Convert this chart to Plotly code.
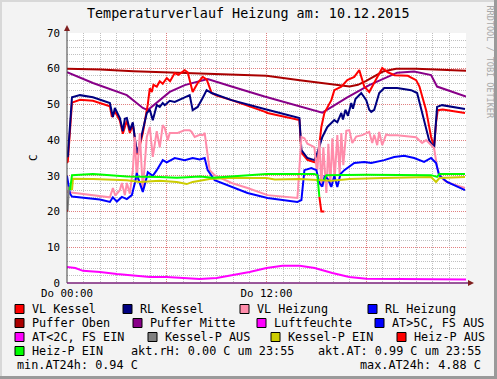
import plotly.graph_objects as go

# ---------------- data ----------------
title_text = "Temperaturverlauf Heizung am: 10.12.2015"
x_tick_vals = [0, 6, 12, 18, 24]
x_tick_text = ["Do 00:00", "", "Do 12:00", "", ""]
y_tick_vals = [0, 10, 20, 30, 40, 50, 60, 70]

vl_kessel_h = [0, 0.05, 0.3, 0.78, 1.56, 2.58, 2.7, 2.88, 3.18, 3.36, 3.6, 3.78, 3.96, 4.2, 4.38, 4.56, 4.86,
               4.98, 5.1, 5.2, 5.4, 5.58, 5.76, 6.0, 6.2, 6.48, 6.7, 7.08, 7.26, 7.56, 7.86, 8.16, 8.4, 8.7,
               9.0, 9.9, 11.88, 12.06, 13.98, 14.1, 14.46, 14.88, 15.06, 15.3, 15.48, 15.9, 16.08, 16.5,
               16.86, 17.28, 17.58, 17.88, 18.18, 18.48, 18.78, 18.96, 19.3, 19.7, 20.5, 21.0, 21.2, 21.6,
               21.9, 22.08, 22.2, 22.3, 22.6, 23.94]
vl_kessel_v = [33.6, 34, 50.5, 51.3, 51, 49.5, 46.5, 48, 45.5, 41.8, 45.5, 42, 44.5, 36, 38.5, 42, 50,
               54.5, 53.5, 55.5, 55, 56.5, 55.8, 57.4, 56.5, 58.8, 58.3, 59.6, 59, 53.5, 56, 57.7, 57, 53.2,
               52.5, 51.2, 48, 47.6, 45.6, 36.5, 34.5, 33.8, 34, 43.7, 47.6, 51.2, 54, 55,
               56.8, 57.7, 59.6, 55, 53.5, 56, 58.8, 60.2, 59, 58.2, 58, 56.8, 55, 48.4,
               40.9, 38, 45, 48.4, 48.6, 47.6]

rl_kessel_h = [0, 0.05, 0.3, 0.78, 1.56, 2.58, 2.76, 2.88, 3.18, 3.36, 3.48, 3.6, 3.78, 3.96, 4.2, 4.38, 4.56,
               4.8, 4.98, 5.16, 5.4, 5.58, 5.76, 5.88, 6.18, 6.48, 7.08, 7.38, 7.56, 7.86, 8.16, 8.4, 8.7,
               9.9, 11.88, 13.98, 14.1, 14.46, 14.88, 15.06, 15.36, 15.66, 16.08, 16.26, 16.5, 16.6, 16.75,
               16.9, 17.1, 17.2, 17.35, 17.46, 17.7, 18.0, 18.18, 18.3, 18.48, 18.78, 19.08, 19.86, 20.7,
               21.06, 21.48, 21.78, 22.08, 22.26, 22.56, 23.94]
rl_kessel_v = [35.3, 35.5, 52, 52.6, 52, 50.4, 46.5, 49, 46.2, 42.5, 46, 46.2, 42.8, 45, 36.4, 39.2, 42.8,
               47.6, 48.5, 45.6, 49.8, 49.3, 50.4, 49.8, 51, 50.7, 52, 52.6, 48.4, 49.3, 51.8, 54, 53.2,
               51.2, 48.7, 46.2, 37.2, 35, 34.4, 36.4, 40.9, 43.7, 45.6, 45, 47.6, 45.8, 48.5,
               46.8, 50.4, 48.8, 51.5, 52, 53.2, 51.2, 48.5, 47.9, 48.5, 53.2, 54.6, 54.6, 54,
               53.2, 45.6, 40, 37.8, 49.3, 49.8, 48.7]

vl_heiz_h = [0, 1.56, 2.58, 2.76, 2.9, 3.18, 3.3, 3.48, 3.6, 3.78, 3.96, 4.08, 4.2, 4.38, 4.5, 4.56, 4.8,
             4.98, 5.16, 5.4, 5.58, 5.76, 5.88, 6.06, 6.18, 6.66, 7.08, 7.38, 7.5, 7.68, 7.98, 8.16, 8.28,
             8.4, 8.58, 8.88, 9.9, 10.86, 12.06, 13.86, 14.1, 14.28, 14.46, 14.76, 14.88, 15.0, 15.06,
             15.18, 15.3, 15.42, 15.6, 15.72, 15.84, 15.96, 16.1, 16.26, 16.4, 16.5, 16.62, 16.8, 16.98,
             17.16, 17.4, 17.76, 18.18, 18.36, 18.48, 18.66, 18.78, 18.96, 19.2, 19.38, 19.86, 21.0,
             21.36, 21.6, 22.08, 22.26, 22.38, 22.68, 22.98, 23.94]
vl_heiz_v = [25.5, 24.6, 24, 26.6, 24.5, 26, 28, 24.6, 28, 25, 31.6, 40.9, 28.8, 42, 29, 26, 40.9,
             43.7, 35.3, 42.5, 38, 44.2, 43.4, 40, 42, 42, 42.8, 42.8, 42.3, 40.9, 41.5, 41.4, 42,
             38, 31.6, 30.2, 28, 26.6, 24.6, 23.8, 40.9, 40.5, 39, 38.3, 38, 32.5, 31.6,
             40, 26.9, 38, 25.2, 39, 27, 40.5, 29, 41.4, 30.5, 42, 33, 42.6, 42.8,
             39.2, 41, 41.4, 42.3, 39.2, 41.5, 38.6, 42.3, 38.6, 41.6, 41.4, 41.4, 40.8,
             39.2, 40, 37.8, 32.5, 30.5, 28.8, 28, 26.6]

rl_heiz_h = [0, 0.18, 0.3, 1.98, 2.58, 2.76, 3.0, 3.3, 3.6, 3.9, 4.08, 4.2, 4.3, 4.56, 4.8, 4.86, 5.16,
             5.4, 5.76, 6.0, 6.48, 7.08, 7.56, 7.98, 8.28, 8.46, 8.88, 9.6, 10.86, 12.06, 13.86, 14.1,
             14.16, 14.28, 14.7, 15.0, 15.18, 15.36, 15.5, 15.7, 15.9, 16.08, 16.26, 16.45, 16.68, 16.98,
             17.28, 17.88, 18.3, 19.08, 19.68, 20.28, 20.88, 21.48, 21.9, 22.2, 22.38, 22.86, 23.94]
rl_heiz_v = [30, 25, 24.2, 23.4, 22.7, 24, 22.8, 24.1, 23.5, 24.6, 28, 30.8, 29, 25.5, 29.7, 31, 30,
             31.6, 34.4, 33.8, 35, 34.4, 35, 34.6, 35, 31.6, 28.8, 27.5, 25.2, 23.8, 22.7, 23.2,
             26, 31.6, 32.2, 31.6, 28, 27, 30, 29, 26.9, 30, 26.9, 30.5, 31.6, 32.5,
             33.6, 33.9, 33.6, 34.4, 35.3, 35.6, 35, 33.9, 35, 33.6, 30.2, 28.3, 26]

puffer_oben_h = [0, 2, 4, 6, 8, 10, 12, 14, 15.5, 16.4, 17, 17.5, 18, 19, 19.8, 21, 23, 24]
puffer_oben_v = [60, 59.8, 59.3, 59, 58.6, 58.2, 58, 56.8, 56, 55.4, 55, 55.5, 56.6, 59.2, 60, 60, 59.6, 59.4]

puffer_mitte_h = [0, 1.56, 3.6, 4.56, 4.86, 5.58, 6.18, 7.08, 8.46, 9.9, 11.88, 15.36, 16.86, 18.18, 19.86,
                  20.88, 21.9, 22.26, 22.86, 24]
puffer_mitte_v = [59, 56, 52.6, 49, 48.4, 51.2, 53.5, 55.4, 57.1, 55, 52.2, 47.7, 52, 55.4, 58.9,
                  59.2, 58.2, 55, 54, 52.2]

at_h = [0, 0.5, 0.96, 1.98, 3.0, 3.96, 4.98, 6.0, 6.96, 7.98, 9.0, 9.96, 10.98, 12.0, 12.96, 14.0, 14.9,
        15.96, 16.98, 18.0, 20.0, 21.9, 23.0, 24]
at_v = [4.5, 4.2, 3.4, 3.1, 2.5, 2.2, 1.7, 1.7, 1.4, 1.1, 1.4, 2.2, 3.1, 4.2, 4.8, 4.8, 4.2,
        2.8, 1.7, 1.2, 1.1, 1.0, 0.95, 0.95]

heiz_p_ein_h = [0.18, 0.3, 0.78, 1.56, 2.0, 3.6, 5.58, 6.6, 7.2, 8.0, 8.76, 9.6, 10.8, 12.0, 14.88, 15.06,
                15.18, None, 15.48, 15.6, 18.0, 21.9, 22.26, 22.4, 23.94]
heiz_p_ein_v = [26, 30.2, 30.3, 30.5, 30.4, 29.8, 29.7, 29.5, 29.6, 29.8, 29.5, 29.8, 30.2, 30.5, 30.5, 30.2,
                24.1, None, 28.8, 30.2, 30.3, 30.2, 29.7, 30.5, 30.5]

heiz_p_aus_h = [0, 0.05, None, 15.18, 15.3, 15.48]
heiz_p_aus_v = [20.2, 20.2, None, 24.1, 20, 20]

kessel_p_ein_h = [0.3, 0.36, 1.56, 3.6, 4.38, 5.58, 6.6, 7.2, 7.56, 8.58, 9.6, 12, 12.5, 14, 15.9, 17, 19,
                  21.9, 22.2, 22.4, 23.94]
kessel_p_ein_v = [26, 29.2, 29.1, 28.8, 28.3, 28.6, 28.3, 27.7, 28.3, 29.1, 29.4, 29.4, 29, 29.1, 28.6, 29.1,
                  29.4, 29.7, 28.3, 29.4, 29.7]

kessel_p_aus_h = [0.03, 0.12]
kessel_p_aus_v = [20, 27]

legend_rows = [
    [("VL Kessel", "#FF0000"), ("RL Kessel", "#000080"), ("VL Heizung", "#FF8CAA"), ("RL Heizung", "#0000FF")],
    [("Puffer Oben", "#AA0000"), ("Puffer Mitte", "#880088"), ("Luftfeuchte", "#FF00FF"), ("AT>5C, FS AUS", "#0000FF")],
    [("AT<2C, FS EIN", "#FF00FF"), ("Kessel-P AUS", "#808080"), ("Kessel-P EIN", "#CCCC00"), ("Heiz-P AUS", "#FF0000")],
    [("Heiz-P EIN", "#00FF00")],
]
info_akt_rh = "akt.rH: 0.00 C um 23:55"
info_akt_at = "akt.AT: 0.99 C um 23:55"
info_min = "min.AT24h: 0.94 C"
info_max = "max.AT24h: 4.88 C"
watermark = "RRDTOOL / TOBI OETIKER"

# ---------------- layout geometry ----------------
W, H = 497, 379
L, R, T, B = 67, 466, 33, 283
MONO = "DejaVu Sans Mono"
FS = 11.8


def px(x):
    return (x - L) / (R - L)


def py(y):
    return (B - y) / (B - T)


fig = go.Figure()

series = [
    (puffer_oben_h, puffer_oben_v, "#AA0000"),
    (puffer_mitte_h, puffer_mitte_v, "#880088"),
    (vl_kessel_h, vl_kessel_v, "#FF0000"),
    (rl_kessel_h, rl_kessel_v, "#000080"),
    (vl_heiz_h, vl_heiz_v, "#FF8CAA"),
    (rl_heiz_h, rl_heiz_v, "#0000FF"),
    (at_h, at_v, "#FF00FF"),
    (kessel_p_ein_h, kessel_p_ein_v, "#CCCC00"),
    (kessel_p_aus_h, kessel_p_aus_v, "#808080"),
    (heiz_p_ein_h, heiz_p_ein_v, "#00FF00"),
    (heiz_p_aus_h, heiz_p_aus_v, "#FF0000"),
]
for xs, ys, col in series:
    fig.add_trace(go.Scatter(x=xs, y=ys, mode="lines", line=dict(color=col, width=2),
                             showlegend=False, hoverinfo="skip", connectgaps=False))

shapes = []
annotations = []

# frame around the canvas
shapes.append(dict(type="line", xref="paper", yref="paper", x0=px(0), x1=px(W), y0=py(1), y1=py(1),
                   line=dict(color="#D8D8D8", width=2)))
shapes.append(dict(type="line", xref="paper", yref="paper", x0=px(1), x1=px(1), y0=py(0), y1=py(H),
                   line=dict(color="#D8D8D8", width=2)))
shapes.append(dict(type="line", xref="paper", yref="paper", x0=px(W - 1.5), x1=px(W - 1.5), y0=py(0), y1=py(H),
                   line=dict(color="#9A9A9A", width=3)))
shapes.append(dict(type="line", xref="paper", yref="paper", x0=px(0), x1=px(W), y0=py(H - 1.5), y1=py(H - 1.5),
                   line=dict(color="#9A9A9A", width=3)))

# axis lines and arrows
shapes.append(dict(type="line", xref="paper", yref="paper", x0=px(67), x1=px(67), y0=py(B), y1=py(30),
                   line=dict(color="#404040", width=1)))
shapes.append(dict(type="path", xref="paper", yref="paper",
                   path=f"M {px(64)} {py(31)} L {px(70)} {py(31)} L {px(67)} {py(25)} Z",
                   fillcolor="#7F1F1F", line=dict(color="#7F1F1F", width=0)))
shapes.append(dict(type="line", xref="paper", yref="paper", x0=px(67), x1=px(469), y0=py(283), y1=py(283),
                   line=dict(color="#7A207A", width=1.5)))
shapes.append(dict(type="path", xref="paper", yref="paper",
                   path=f"M {px(468)} {py(280)} L {px(468)} {py(286)} L {px(474)} {py(283)} Z",
                   fillcolor="#7F1F1F", line=dict(color="#7F1F1F", width=0)))

# legend
sq_x = [[15, 123, 240, 368], [15, 133, 257, 375], [15, 148, 271, 397], [15]]
row_y = [309, 323, 337, 351]
for r, row in enumerate(legend_rows):
    for c, (name, col) in enumerate(row):
        x0 = sq_x[r][c]
        yc = row_y[r]
        shapes.append(dict(type="rect", xref="paper", yref="paper",
                           x0=px(x0), x1=px(x0 + 9), y0=py(yc + 4.5), y1=py(yc - 4.5),
                           fillcolor=col, line=dict(color="#000000", width=1)))
        annotations.append(dict(xref="paper", yref="paper", x=px(x0 + 14.5), y=py(yc), text=name,
                                showarrow=False, xanchor="left", yanchor="middle",
                                font=dict(family=MONO, size=FS, color="#000000")))

annotations.append(dict(xref="paper", yref="paper", x=px(128.5), y=py(351), text=info_akt_rh, showarrow=False,
                        xanchor="left", yanchor="middle", font=dict(family=MONO, size=FS, color="#000")))
annotations.append(dict(xref="paper", yref="paper", x=px(483), y=py(351), text=info_akt_at, showarrow=False,
                        xanchor="right", yanchor="middle", font=dict(family=MONO, size=FS, color="#000")))
annotations.append(dict(xref="paper", yref="paper", x=px(15), y=py(365), text=info_min, showarrow=False,
                        xanchor="left", yanchor="middle", font=dict(family=MONO, size=FS, color="#000")))
annotations.append(dict(xref="paper", yref="paper", x=px(483), y=py(365), text=info_max, showarrow=False,
                        xanchor="right", yanchor="middle", font=dict(family=MONO, size=FS, color="#000")))

# title, y-axis title, watermark
annotations.append(dict(xref="paper", yref="paper", x=px(247.5), y=py(14), text=title_text, showarrow=False,
                        xanchor="center", yanchor="middle", font=dict(family=MONO, size=13.4, color="#000")))
annotations.append(dict(xref="paper", yref="paper", x=px(33), y=py(158), text="C", showarrow=False,
                        textangle=-90, xanchor="center", yanchor="middle",
                        font=dict(family=MONO, size=11, color="#000")))
annotations.append(dict(xref="paper", yref="paper", x=px(489.5), y=py(62), text=watermark, showarrow=False,
                        textangle=90, xanchor="center", yanchor="middle",
                        font=dict(family=MONO, size=8.5, color="#A8A8A8")))

fig.update_layout(
    width=W, height=H,
    margin=dict(l=L, r=W - R, t=T, b=H - B, pad=0),
    paper_bgcolor="#F3F3F3", plot_bgcolor="#FFFFFF",
    showlegend=False,
    shapes=shapes, annotations=annotations,
    xaxis=dict(range=[0, 24], tickvals=x_tick_vals, ticktext=x_tick_text, showline=False, zeroline=False,
               showgrid=True, gridcolor="#E08080", griddash="1px,1px", gridwidth=1,
               ticks="", ticklabelstandoff=2,
               tickfont=dict(family=MONO, size=10.8, color="#000"),
               minor=dict(dtick=1, tick0=0, showgrid=True, gridcolor="#C0C0C0", griddash="1px,1px", gridwidth=1)),
    yaxis=dict(range=[0, 70], tickvals=y_tick_vals, showline=False, zeroline=False,
               showgrid=True, gridcolor="#E08080", griddash="1px,1px", gridwidth=1,
               ticks="", ticklabelstandoff=6,
               tickfont=dict(family=MONO, size=10.8, color="#000"),
               minor=dict(dtick=2, tick0=0, showgrid=True, gridcolor="#C0C0C0", griddash="1px,1px", gridwidth=1)),
)

fig.write_html("out.html", config={"displayModeBar": False},
               post_script="document.body.style.margin='0px';document.body.style.padding='0px';")
